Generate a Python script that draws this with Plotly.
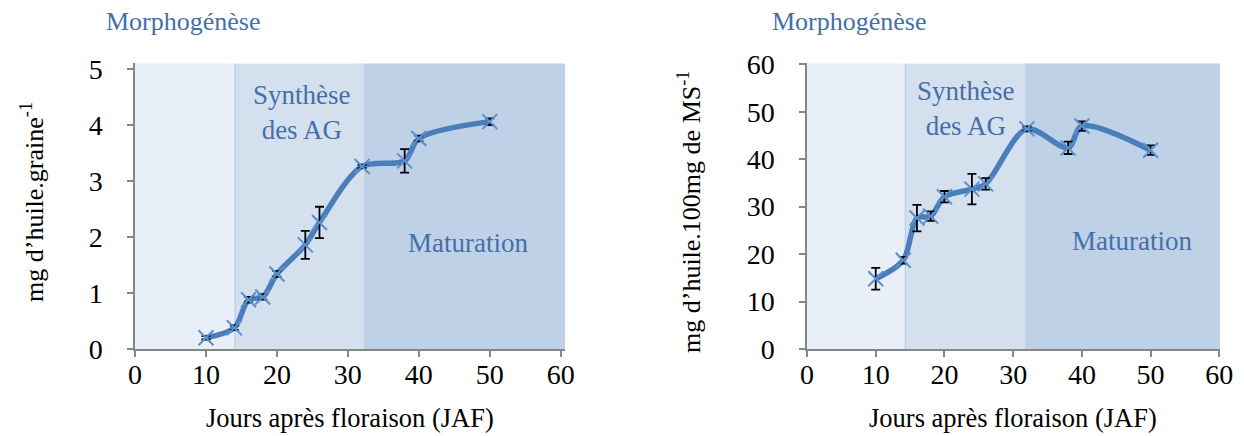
import plotly.graph_objects as go

# ---- data ----
jaf = [10, 14, 16, 18, 20, 24, 26, 32, 38, 40, 50]
huile_graine = [0.20, 0.38, 0.88, 0.93, 1.34, 1.86, 2.26, 3.26, 3.36, 3.76, 4.06]
huile_graine_err = [0.03, 0.04, 0.05, 0.05, 0.05, 0.25, 0.28, 0.03, 0.21, 0.05, 0.06]
huile_ms = [14.8, 18.7, 27.6, 28.0, 32.1, 33.7, 34.8, 46.4, 42.4, 47.0, 41.9]
huile_ms_err = [2.3, 0.7, 2.8, 1.0, 1.2, 3.2, 1.2, 0.5, 1.3, 1.0, 1.0]

x_ticks = [0, 10, 20, 30, 40, 50, 60]
y1_ticks = [0, 1, 2, 3, 4, 5]
y2_ticks = [0, 10, 20, 30, 40, 50, 60]

phases_left = [0, 14.1, 32.4, 60.6]
phases_right = [0, 14.3, 31.9, 60.1]
phase_colors = ["#E9EFF8", "#D5E0EF", "#BFD1E6"]

# page is 1244x436, the html body adds an 8px margin
OFF = 8
W, H = 1244 - OFF, 436 - OFF

def px(x):
    return (x - OFF) / W

def py(y):
    return 1 - (y - OFF) / H

FONT = "'Liberation Serif', 'Times New Roman', serif"
TXT_BLUE = "#4470A8"
LINE_BLUE = "#4A7EBB"
MARK_BLUE = "#5B8FD0"
AXIS_GREY = "#868686"

fig = go.Figure()

def add_series(x, y, err, xa, ya):
    fig.add_trace(go.Scatter(
        x=x, y=y, xaxis=xa, yaxis=ya, mode="lines",
        line=dict(color=LINE_BLUE, width=5.5, shape="spline", smoothing=0.9),
        hoverinfo="skip", showlegend=False))
    fig.add_trace(go.Scatter(
        x=x, y=y, xaxis=xa, yaxis=ya, mode="markers",
        marker=dict(symbol="x-thin", size=15, line=dict(color=MARK_BLUE, width=2)),
        error_y=dict(type="data", array=err, visible=True, color="black",
                     thickness=1.8, width=4.5),
        showlegend=False))

add_series(jaf, huile_graine, huile_graine_err, "x", "y")
add_series(jaf, huile_ms, huile_ms_err, "x2", "y2")

shapes = []
for bounds, xr, yr in [(phases_left, "x", "y domain"), (phases_right, "x2", "y2 domain")]:
    for i in range(3):
        shapes.append(dict(type="rect", xref=xr, yref=yr, x0=bounds[i], x1=bounds[i + 1],
                           y0=0, y1=1, fillcolor=phase_colors[i],
                           line=dict(width=0), layer="below"))
    for b in bounds[1:3]:
        shapes.append(dict(type="line", xref=xr, yref=yr, x0=b, x1=b, y0=0, y1=1,
                           line=dict(color="#B3C7E0", width=1), layer="below"))

ax_common = dict(showline=True, linecolor=AXIS_GREY, linewidth=1.5, ticks="outside",
                 tickcolor=AXIS_GREY, ticklen=6, tickwidth=1.5, showgrid=False,
                 zeroline=False, automargin=False,
                 tickfont=dict(family=FONT, size=28, color="black"))

dom_y = [py(349), py(63.4)]
fig.update_layout(
    width=W, height=H, margin=dict(l=0, r=0, t=0, b=0, pad=0, autoexpand=False),
    paper_bgcolor="white", plot_bgcolor="rgba(0,0,0,0)",
    font=dict(family=FONT),
    shapes=shapes,
    xaxis=dict(domain=[px(135), px(565)], range=[0, 60.6], tickvals=x_ticks,
               ticklabelstandoff=-6, **ax_common),
    yaxis=dict(domain=dom_y, range=[0, 5.1], tickvals=y1_ticks,
               ticklabelstandoff=19, **ax_common),
    xaxis2=dict(domain=[px(807), px(1220)], range=[0, 60.1], tickvals=x_ticks,
                anchor="y2", ticklabelstandoff=-6, **ax_common),
    yaxis2=dict(domain=dom_y, range=[0, 60.2], tickvals=y2_ticks, anchor="x2",
                ticklabelstandoff=19, **ax_common),
)

ann = []
def text(x, y, t, xref, yref, size, color, angle=0):
    ann.append(dict(x=x, y=y, xref=xref, yref=yref, text=t, showarrow=False,
                    textangle=angle, xanchor="center", yanchor="middle",
                    font=dict(family=FONT, size=size, color=color)))

text(px(183), py(22), "Morphogénèse", "paper", "paper", 26, TXT_BLUE)
text(px(849), py(22), "Morphogénèse", "paper", "paper", 26, TXT_BLUE)
text(23.6, 4.22, "Synthèse<br>des AG", "x", "y", 27, TXT_BLUE)
text(46.9, 1.89, "Maturation", "x", "y", 27, TXT_BLUE)
text(23.1, 50.6, "Synthèse<br>des AG", "x2", "y2", 27, TXT_BLUE)
text(47.3, 22.7, "Maturation", "x2", "y2", 27, TXT_BLUE)
text(px(350), py(418), "Jours après floraison (JAF)", "paper", "paper", 26.5, "black")
text(px(1013), py(418), "Jours après floraison (JAF)", "paper", "paper", 26.5, "black")
text(px(32), py(202), "mg d’huile.graine<sup>-1</sup>", "paper", "paper", 26, "black", -90)
text(px(690), py(212), "mg d’huile.100mg de MS<sup>-1</sup>", "paper", "paper", 26, "black", -90)
fig.update_layout(annotations=ann)

fig.write_html("out.html")
